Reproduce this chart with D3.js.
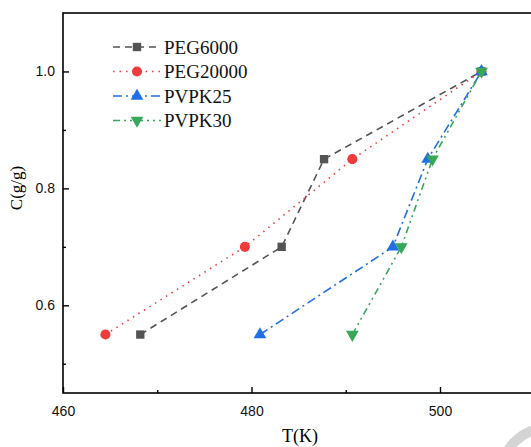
<!DOCTYPE html>
<html>
<head>
<meta charset="utf-8">
<script src="https://cdn.jsdelivr.net/npm/d3@7"></script>
<style>
body{margin:0;background:#fff;overflow:hidden;}
</style>
</head>
<body>
<div id="chart"></div>
<script>
// data
var seriesNames=["PEG6000","PEG20000","PVPK25","PVPK30"];
var concValues=[0.55,0.70,0.85,1.0];
var tPEG6000=[468.2,483.2,487.7,504.4];
var tPEG20000=[464.5,479.3,490.7,504.4];
var tPVPK25=[480.9,495.0,498.7,504.4];
var tPVPK30=[490.7,495.9,499.2,504.4];
var xTicks=[460,480,500];
var xMinor=[470,490,510];
var yTicks=[0.6,0.8,1.0];
var yMinor=[0.5,0.7,0.9];

var colors=["#545454","#ee3b3b","#1f6fe5","#36a85a"];
var dashes=["7,5","1.5,5","9,4,2,4","7,4,2,4,2,4"];
var symbols=[d3.symbolSquare,d3.symbolCircle,d3.symbolTriangle,d3.symbolTriangle];

var allT=[tPEG6000,tPEG20000,tPVPK25,tPVPK30];
var data=seriesNames.map(function(n,i){
    return {name:n,points:allT[i].map(function(t,j){return {t:t,c:concValues[j]};})};
});

var width=531,height=447;
var margin={top:13,left:63,bottom:54};
var plotW=(515-460)*9.425;
var plotH=height-margin.top-margin.bottom;

var svg=d3.select("#chart").append("svg")
    .attr("width",width)
    .attr("height",height);

var g=svg.append("g").attr("transform","translate("+margin.left+","+margin.top+")");

var x=d3.scaleLinear().domain([460,515]).range([0,plotW]);
var y=d3.scaleLinear().domain([0.45,1.1]).range([plotH,0]);

// frame
g.append("rect").attr("x",0).attr("y",0).attr("width",plotW).attr("height",plotH)
    .attr("fill","none").attr("stroke","#000").attr("stroke-width",1.6);

// x axis
var xAxis=g.append("g").attr("transform","translate(0,"+plotH+")")
    .call(d3.axisBottom(x).tickValues(xTicks).tickSizeInner(-6).tickSizeOuter(0).tickFormat(d3.format("d")));
xAxis.select(".domain").remove();
xAxis.selectAll("line").attr("stroke-width",1.4);
xAxis.selectAll("text").attr("dy","1.45em").style("font-family","Liberation Sans, Arial, sans-serif").style("font-size","14px").attr("fill","#111");
g.append("g").attr("transform","translate(0,"+plotH+")")
    .call(d3.axisBottom(x).tickValues(xMinor).tickSizeInner(-3).tickSizeOuter(0).tickFormat(""))
    .call(function(a){a.select(".domain").remove();a.selectAll("line").attr("stroke-width",1.4);});

// y axis
var yAxis=g.append("g")
    .call(d3.axisLeft(y).tickValues(yTicks).tickSizeInner(-6).tickSizeOuter(0).tickFormat(d3.format(".1f")));
yAxis.select(".domain").remove();
yAxis.selectAll("line").attr("stroke-width",1.4);
yAxis.selectAll("text").attr("x",-8).style("font-family","Liberation Sans, Arial, sans-serif").style("font-size","14px").attr("fill","#111");
g.append("g")
    .call(d3.axisLeft(y).tickValues(yMinor).tickSizeInner(-3).tickSizeOuter(0).tickFormat(""))
    .call(function(a){a.select(".domain").remove();a.selectAll("line").attr("stroke-width",1.4);});

// axis titles
svg.append("text").attr("x",300).attr("y",442).attr("text-anchor","middle")
    .style("font-family","Liberation Serif, Times New Roman, serif").style("font-size","18px").text("T(K)");
svg.append("text").attr("transform","translate(22,188) rotate(-90)").attr("text-anchor","middle")
    .style("font-family","Liberation Serif, Times New Roman, serif").style("font-size","17px").text("C(g/g)");

// lines
var line=d3.line().x(function(d){return x(d.t);}).y(function(d){return y(d.c);});
data.forEach(function(s,i){
    g.append("path").datum(s.points)
        .attr("d",line)
        .attr("fill","none")
        .attr("stroke",colors[i])
        .attr("stroke-width",1.6)
        .attr("stroke-dasharray",dashes[i]);
});
data.forEach(function(s,i){
    g.selectAll(".m"+i).data(s.points).enter().append("path")
        .attr("class","m"+i)
        .attr("d",d3.symbol().type(symbols[i]).size(i==1?80:70))
        .attr("transform",function(d){
            return "translate("+x(d.t)+","+y(d.c)+")"+(i==3?" rotate(180)":"");
        })
        .attr("fill",colors[i]);
});

// legend
var legend=svg.append("g").attr("transform","translate(113,47)");
seriesNames.forEach(function(n,i){
    var row=legend.append("g").attr("transform","translate(0,"+(i*24.5)+")");
    row.append("line").attr("x1",0).attr("x2",48).attr("y1",0).attr("y2",0)
        .attr("stroke",colors[i]).attr("stroke-width",1.6).attr("stroke-dasharray",dashes[i]);
    row.append("path").attr("d",d3.symbol().type(symbols[i]).size(i==1?80:70))
        .attr("transform","translate(24,0)"+(i==3?" rotate(180)":""))
        .attr("fill",colors[i]);
    row.append("text").attr("x",51).attr("y",0).attr("dy","0.35em")
        .style("font-family","Liberation Serif, Times New Roman, serif").style("font-size","19px")
        .attr("fill","#111").text(n);
});

// grey arc in the lower right corner
svg.append("circle").attr("cx",548).attr("cy",475).attr("r",47)
    .attr("fill","none").attr("stroke","#d4d4d4").attr("stroke-width",10);
</script>
</body>
</html>
